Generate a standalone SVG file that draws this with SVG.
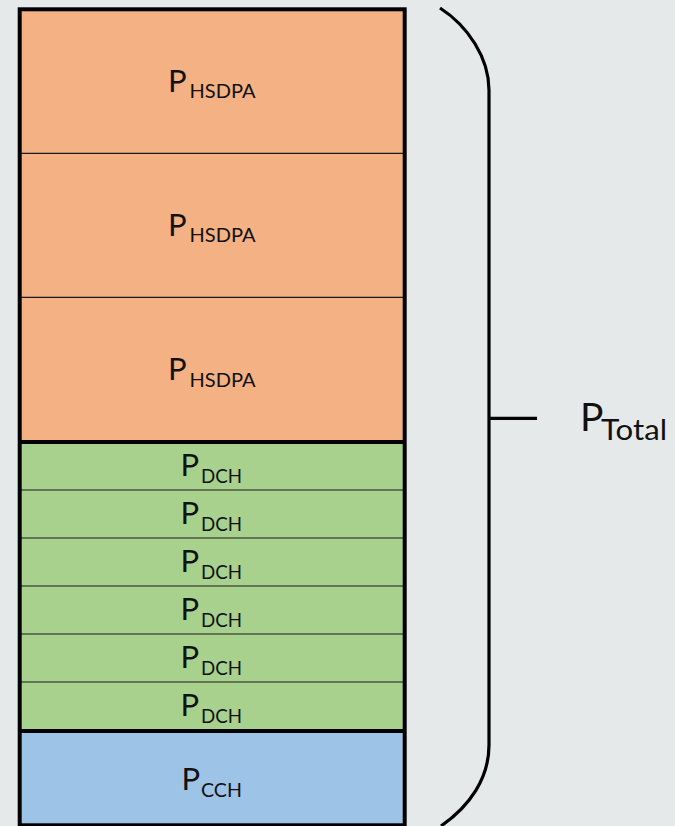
<svg xmlns="http://www.w3.org/2000/svg" width="675" height="826" viewBox="0 0 675 826">
  <style>
    .lbl { font-family: Lato, "Open Sans", "Liberation Sans", sans-serif; fill: #111; }
    .main { font-size: 31px; }
    .sub { font-size: 20px; }
    .hsdpa { fill: #F4B183; }
    .dch { fill: #A9D18E; }
    .cch { fill: #9DC3E6; }
    .thin { stroke: #1a1a1a; stroke-width: 1.2; }
    .thick { stroke: #000; stroke-width: 4; }
    .brace { fill: none; stroke: #000; stroke-width: 3.2; }
  </style>
  <rect width="675" height="826" fill="#E6E9EA"/>

  <!-- HSDPA power blocks -->
  <g id="hsdpa1">
    <rect class="hsdpa" x="19.7" y="9.3" width="385" height="144"/>
    <text class="lbl main" x="168" y="91.7">P</text>
    <text class="lbl sub" x="189.5" y="98" textLength="66" lengthAdjust="spacingAndGlyphs">HSDPA</text>
  </g>
  <g id="hsdpa2">
    <rect class="hsdpa" x="19.7" y="153.3" width="385" height="144"/>
    <text class="lbl main" x="168" y="235.8">P</text>
    <text class="lbl sub" x="189.5" y="242.1" textLength="66" lengthAdjust="spacingAndGlyphs">HSDPA</text>
  </g>
  <g id="hsdpa3">
    <rect class="hsdpa" x="19.7" y="297.3" width="385" height="145"/>
    <text class="lbl main" x="168" y="380.3">P</text>
    <text class="lbl sub" x="189.5" y="386.6" textLength="66" lengthAdjust="spacingAndGlyphs">HSDPA</text>
  </g>

  <!-- DCH power blocks -->
  <g id="dch1">
    <rect class="dch" x="19.7" y="442" width="385" height="48"/>
    <text class="lbl main" x="180.5" y="475.7">P</text>
    <text class="lbl sub" x="201" y="482.5" textLength="41" lengthAdjust="spacingAndGlyphs">DCH</text>
  </g>
  <g id="dch2">
    <rect class="dch" x="19.7" y="490" width="385" height="48"/>
    <text class="lbl main" x="180.5" y="523.7">P</text>
    <text class="lbl sub" x="201" y="530.5" textLength="41" lengthAdjust="spacingAndGlyphs">DCH</text>
  </g>
  <g id="dch3">
    <rect class="dch" x="19.7" y="538" width="385" height="48"/>
    <text class="lbl main" x="180.5" y="571.7">P</text>
    <text class="lbl sub" x="201" y="578.5" textLength="41" lengthAdjust="spacingAndGlyphs">DCH</text>
  </g>
  <g id="dch4">
    <rect class="dch" x="19.7" y="586" width="385" height="48"/>
    <text class="lbl main" x="180.5" y="619.7">P</text>
    <text class="lbl sub" x="201" y="626.5" textLength="41" lengthAdjust="spacingAndGlyphs">DCH</text>
  </g>
  <g id="dch5">
    <rect class="dch" x="19.7" y="634" width="385" height="48"/>
    <text class="lbl main" x="180.5" y="667.7">P</text>
    <text class="lbl sub" x="201" y="674.5" textLength="41" lengthAdjust="spacingAndGlyphs">DCH</text>
  </g>
  <g id="dch6">
    <rect class="dch" x="19.7" y="682" width="385" height="49"/>
    <text class="lbl main" x="180.5" y="715.7">P</text>
    <text class="lbl sub" x="201" y="722.5" textLength="41" lengthAdjust="spacingAndGlyphs">DCH</text>
  </g>

  <!-- Common channel block -->
  <g id="cch">
    <rect class="cch" x="19.7" y="731" width="385" height="94.3"/>
    <text class="lbl main" x="181.5" y="790">P</text>
    <text class="lbl sub" x="201" y="796.8" textLength="41" lengthAdjust="spacingAndGlyphs">CCH</text>
  </g>

  <!-- Row dividers and outline -->
  <g id="dividers">
    <line class="thin" x1="19.7" y1="153.3" x2="404.7" y2="153.3"/>
    <line class="thin" x1="19.7" y1="297.3" x2="404.7" y2="297.3"/>
    <line class="thin" x1="19.7" y1="490" x2="404.7" y2="490"/>
    <line class="thin" x1="19.7" y1="538" x2="404.7" y2="538"/>
    <line class="thin" x1="19.7" y1="586" x2="404.7" y2="586"/>
    <line class="thin" x1="19.7" y1="634" x2="404.7" y2="634"/>
    <line class="thin" x1="19.7" y1="682" x2="404.7" y2="682"/>
    <line class="thick" x1="19.7" y1="442" x2="404.7" y2="442"/>
    <line class="thick" x1="19.7" y1="731" x2="404.7" y2="731"/>
    <rect x="19.7" y="9.3" width="385" height="816" fill="none" stroke="#000" stroke-width="4"/>
  </g>

  <!-- Total brace -->
  <g id="connectors">
    <path class="brace" d="M440,8 C468,26 489,58 489,90 L489,745 C489,778 470,806 441,826"/>
    <line class="brace" x1="489" y1="418.3" x2="537" y2="418.3"/>
  </g>

  <g id="total">
    <text class="lbl" x="580" y="431" font-size="39">P</text>
    <text class="lbl" x="601" y="440" font-size="29" textLength="66" lengthAdjust="spacingAndGlyphs">Total</text>
  </g>
</svg>
